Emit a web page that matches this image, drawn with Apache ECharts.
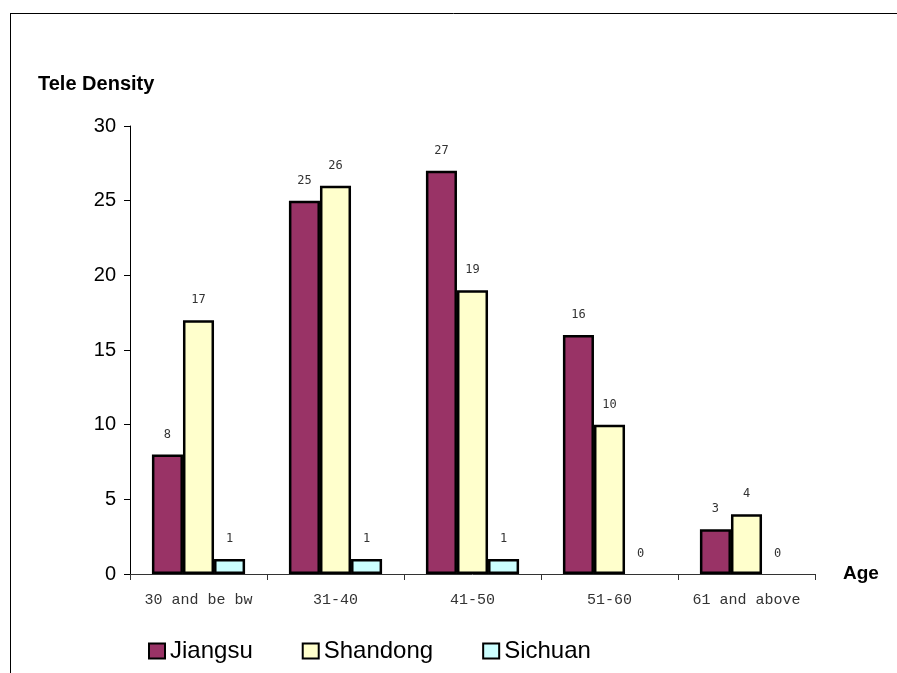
<!DOCTYPE html>
<html>
<head>
<meta charset="utf-8">
<script src="https://cdn.jsdelivr.net/npm/echarts@6/dist/echarts.min.js"></script>
<style>
  html, body { margin: 0; padding: 0; background: #fff; }
  #chart { width: 897px; height: 673px; }
</style>
</head>
<body>
<div id="chart"></div>
<script>
// Tele density by age group for three provinces
const ageGroups = ['30 and be bw', '31-40', '41-50', '51-60', '61 and above'];
const jiangsu = [8, 25, 27, 16, 3];
const shandong = [17, 26, 19, 10, 4];
const sichuan = [1, 1, 1, 0, 0];
const yTicks = { min: 0, max: 30, interval: 5 };

const chart = echarts.init(document.getElementById('chart'), null, { renderer: 'canvas' });

const labelStyle = {
  show: true,
  position: 'top',
  distance: 14,
  fontFamily: 'DejaVu Sans Mono',
  fontSize: 12,
  color: '#333'
};

// zero-height bars carry no outline, only their value label
function toItems(values) {
  return values.map(v => v === 0 ? { value: v, itemStyle: { borderWidth: 0 } } : v);
}

function barSeries(name, data, color) {
  return {
    name: name,
    type: 'bar',
    data: toItems(data),
    barGap: '0%',
    barCategoryGap: '32%',
    itemStyle: { color: color, borderColor: '#000', borderWidth: 2.5 },
    label: labelStyle,
    emphasis: { disabled: true }
  };
}

chart.setOption({
  animation: false,
  backgroundColor: '#fff',
  grid: { left: 130, right: 82, top: 126, bottom: 99, containLabel: false },
  legend: {
    left: 143,
    top: 634,
    itemWidth: 16,
    itemHeight: 15,
    itemGap: 49,
    icon: 'rect',
    textStyle: { fontFamily: 'Liberation Sans, Arial', fontSize: 24, color: '#000' },
    data: ['Jiangsu', 'Shandong', 'Sichuan']
  },
  xAxis: {
    type: 'category',
    data: ageGroups,
    name: 'Age',
    nameLocation: 'end',
    nameGap: 28,
    nameTextStyle: { fontFamily: 'Liberation Sans, Arial', fontWeight: 'bold', fontSize: 19, color: '#000', verticalAlign: 'middle', padding: [6, 0, 0, 0] },
    axisLine: { lineStyle: { color: '#333', width: 1 } },
    axisTick: { show: true, interval: 0, length: 6, alignWithLabel: false, lineStyle: { color: '#333' } },
    axisLabel: { interval: 0, margin: 19, fontFamily: 'Liberation Mono, Courier New', fontSize: 15, color: '#333' }
  },
  yAxis: {
    type: 'value',
    min: yTicks.min,
    max: yTicks.max,
    interval: yTicks.interval,
    axisLine: { show: true, lineStyle: { color: '#000', width: 1 } },
    axisTick: { show: true, length: 6, inside: false, lineStyle: { color: '#000' } },
    splitLine: { show: false },
    axisLabel: { margin: 14, fontFamily: 'Liberation Sans, Arial', fontSize: 20, color: '#000' }
  },
  graphic: [
    { type: 'line', shape: { x1: 10, y1: 13.5, x2: 897, y2: 13.5 }, style: { stroke: '#000', lineWidth: 1 } },
    { type: 'line', shape: { x1: 10.5, y1: 13, x2: 10.5, y2: 673 }, style: { stroke: '#000', lineWidth: 1 } },
    { type: 'text', left: 38, top: 74, style: { text: 'Tele Density', fontFamily: 'Liberation Sans, Arial', fontWeight: 'bold', fontSize: 20, fill: '#000' } }
  ],
  series: [
    barSeries('Jiangsu', jiangsu, '#993366'),
    barSeries('Shandong', shandong, '#FFFFCC'),
    barSeries('Sichuan', sichuan, '#CCFFFF')
  ]
});
</script>
</body>
</html>
